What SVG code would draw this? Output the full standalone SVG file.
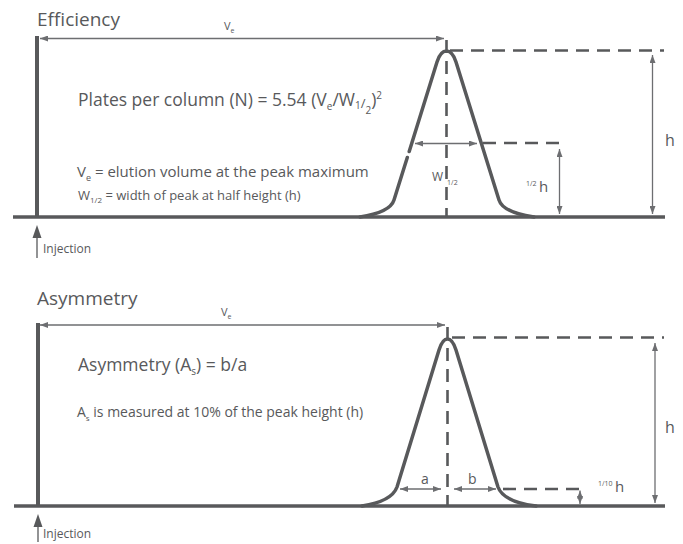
<svg xmlns="http://www.w3.org/2000/svg" width="683" height="544" viewBox="0 0 683 544">
<style>
text{font-family:"Open Sans","Liberation Sans",sans-serif;fill:#58595b}
.thick{stroke:#58595b;stroke-width:3.5;fill:none}
.axis{stroke:#58595b;stroke-width:4;fill:none}
.peak{stroke:#58595b;stroke-width:3.5;fill:none;stroke-linecap:round;stroke-linejoin:round}
.dash{stroke:#58595b;stroke-width:2.6;fill:none;stroke-dasharray:13 8}
.arr{stroke:#6d6e71;stroke-width:1.3;fill:none;marker-start:url(#ah);marker-end:url(#ah)}
.inj{stroke:#58595b;stroke-width:1.3;fill:none}
.injhead{fill:#58595b}
</style>
<defs>
<marker id="ah" markerUnits="userSpaceOnUse" markerWidth="8" markerHeight="6" refX="8" refY="3" orient="auto-start-reverse">
<path d="M0,0 L8,3 L0,6 z" fill="#6d6e71"/>
</marker>
</defs>
<rect width="683" height="544" fill="#ffffff"/>

<g id="efficiency">
<text x="37" y="26" font-size="19">Efficiency</text>
<g id="eff-axes">
<line class="axis" x1="37" y1="36" x2="37" y2="217"/>
<line class="thick" x1="13" y1="217" x2="665" y2="217"/>
</g>
<g id="eff-peak">
<path class="peak" d="M360 217 C376 214.5 391 209.6 394 200 L407.3 157.5 M409.2 151.5 L437 62 C439.5 54 442 51 446.5 51 C451 51 453.5 54 456 62 L499 200 C502 209.6 517 214.5 534 217"/>
</g>
<g id="eff-labels">
<text x="224" y="30" font-size="11">V<tspan font-size="7" dy="3">e</tspan></text>
<text x="78" y="106" font-size="17.5">Plates per column (N) = 5.54 (V<tspan font-size="10" dy="4">e</tspan><tspan dy="-4">/W</tspan><tspan font-size="10" dy="3">1</tspan><tspan font-size="13" dy="-1">/</tspan><tspan font-size="10" dy="6">2</tspan><tspan dy="-8">)</tspan><tspan font-size="10" dy="-7">2</tspan></text>
<text x="77" y="177" font-size="15">V<tspan font-size="9" dy="4">e</tspan><tspan dy="-4"> = elution volume at the peak maximum</tspan></text>
<text x="78" y="200" font-size="13">W<tspan font-size="8" dy="3">1/2</tspan><tspan dy="-3"> = width of peak at half height (h)</tspan></text>
<text x="432" y="181" font-size="12">W<tspan font-size="7" dx="4" dy="4">1/2</tspan></text>
<text x="526" y="186" font-size="7">1/2</text>
<text x="539" y="192" font-size="15">h</text>
<text x="665" y="146" font-size="16">h</text>
<text x="43" y="253" font-size="12">Injection</text>
</g>
</g>

<g id="asymmetry">
<text x="37" y="305" font-size="19">Asymmetry</text>
<g id="asy-axes">
<line class="axis" x1="38" y1="323" x2="38" y2="506"/>
<line class="thick" x1="14" y1="506" x2="665" y2="506"/>
</g>
<g id="asy-peak">
<path class="peak" d="M362 506 C378 503.5 393 498 397 487 L439 350 C441.5 342 444 339 447.5 339 C451 339 453.5 342 456 350 L498 487 C502 498 517 503.5 536 506"/>
</g>
<g id="asy-labels">
<text x="221" y="316" font-size="11">V<tspan font-size="7" dy="3">e</tspan></text>
<text x="78" y="371" font-size="17.5">Asymmetry (A<tspan font-size="10" dy="4">s</tspan><tspan dy="-4">) = b/a</tspan></text>
<text x="77" y="417" font-size="14">A<tspan font-size="8" dy="4">s</tspan><tspan dy="-4"> is measured at 10% of the peak height (h)</tspan></text>
<text x="421" y="484" font-size="14">a</text>
<text x="468" y="484" font-size="14">b</text>
<text x="598" y="486" font-size="7">1/10</text>
<text x="615" y="492" font-size="15">h</text>
<text x="665" y="433" font-size="16">h</text>
<text x="43" y="538" font-size="12">Injection</text>
</g>
</g>

<g id="connectors">
<line class="arr" x1="40" y1="38.5" x2="444" y2="38.5"/>
<line class="dash" x1="446.5" y1="40" x2="446.5" y2="217"/>
<line class="dash" x1="450" y1="50.5" x2="664" y2="50.5"/>
<line class="arr" x1="652.5" y1="55" x2="652.5" y2="214"/>
<line class="arr" x1="415" y1="143.5" x2="477" y2="143.5"/>
<line class="dash" x1="483" y1="143" x2="562" y2="143"/>
<line class="arr" x1="559.5" y1="149" x2="559.5" y2="214"/>
<line class="inj" x1="37" y1="236" x2="37" y2="258"/>
<polygon class="injhead" points="37,225 32.5,238 41.5,238"/>

<line class="arr" x1="40" y1="325" x2="445" y2="325"/>
<line class="dash" x1="447.5" y1="327" x2="447.5" y2="506"/>
<line class="dash" x1="452" y1="337.5" x2="664" y2="337.5"/>
<line class="arr" x1="655" y1="343" x2="655" y2="503"/>
<line class="arr" x1="400" y1="489" x2="441" y2="489"/>
<line class="arr" x1="454" y1="489" x2="496" y2="489"/>
<line class="dash" x1="503" y1="489" x2="585" y2="489"/>
<line class="arr" x1="580" y1="490.5" x2="580" y2="504"/>
<line class="inj" x1="38" y1="526" x2="38" y2="542"/>
<polygon class="injhead" points="38,514 33.5,527 42.5,527"/>
</g>
</svg>
